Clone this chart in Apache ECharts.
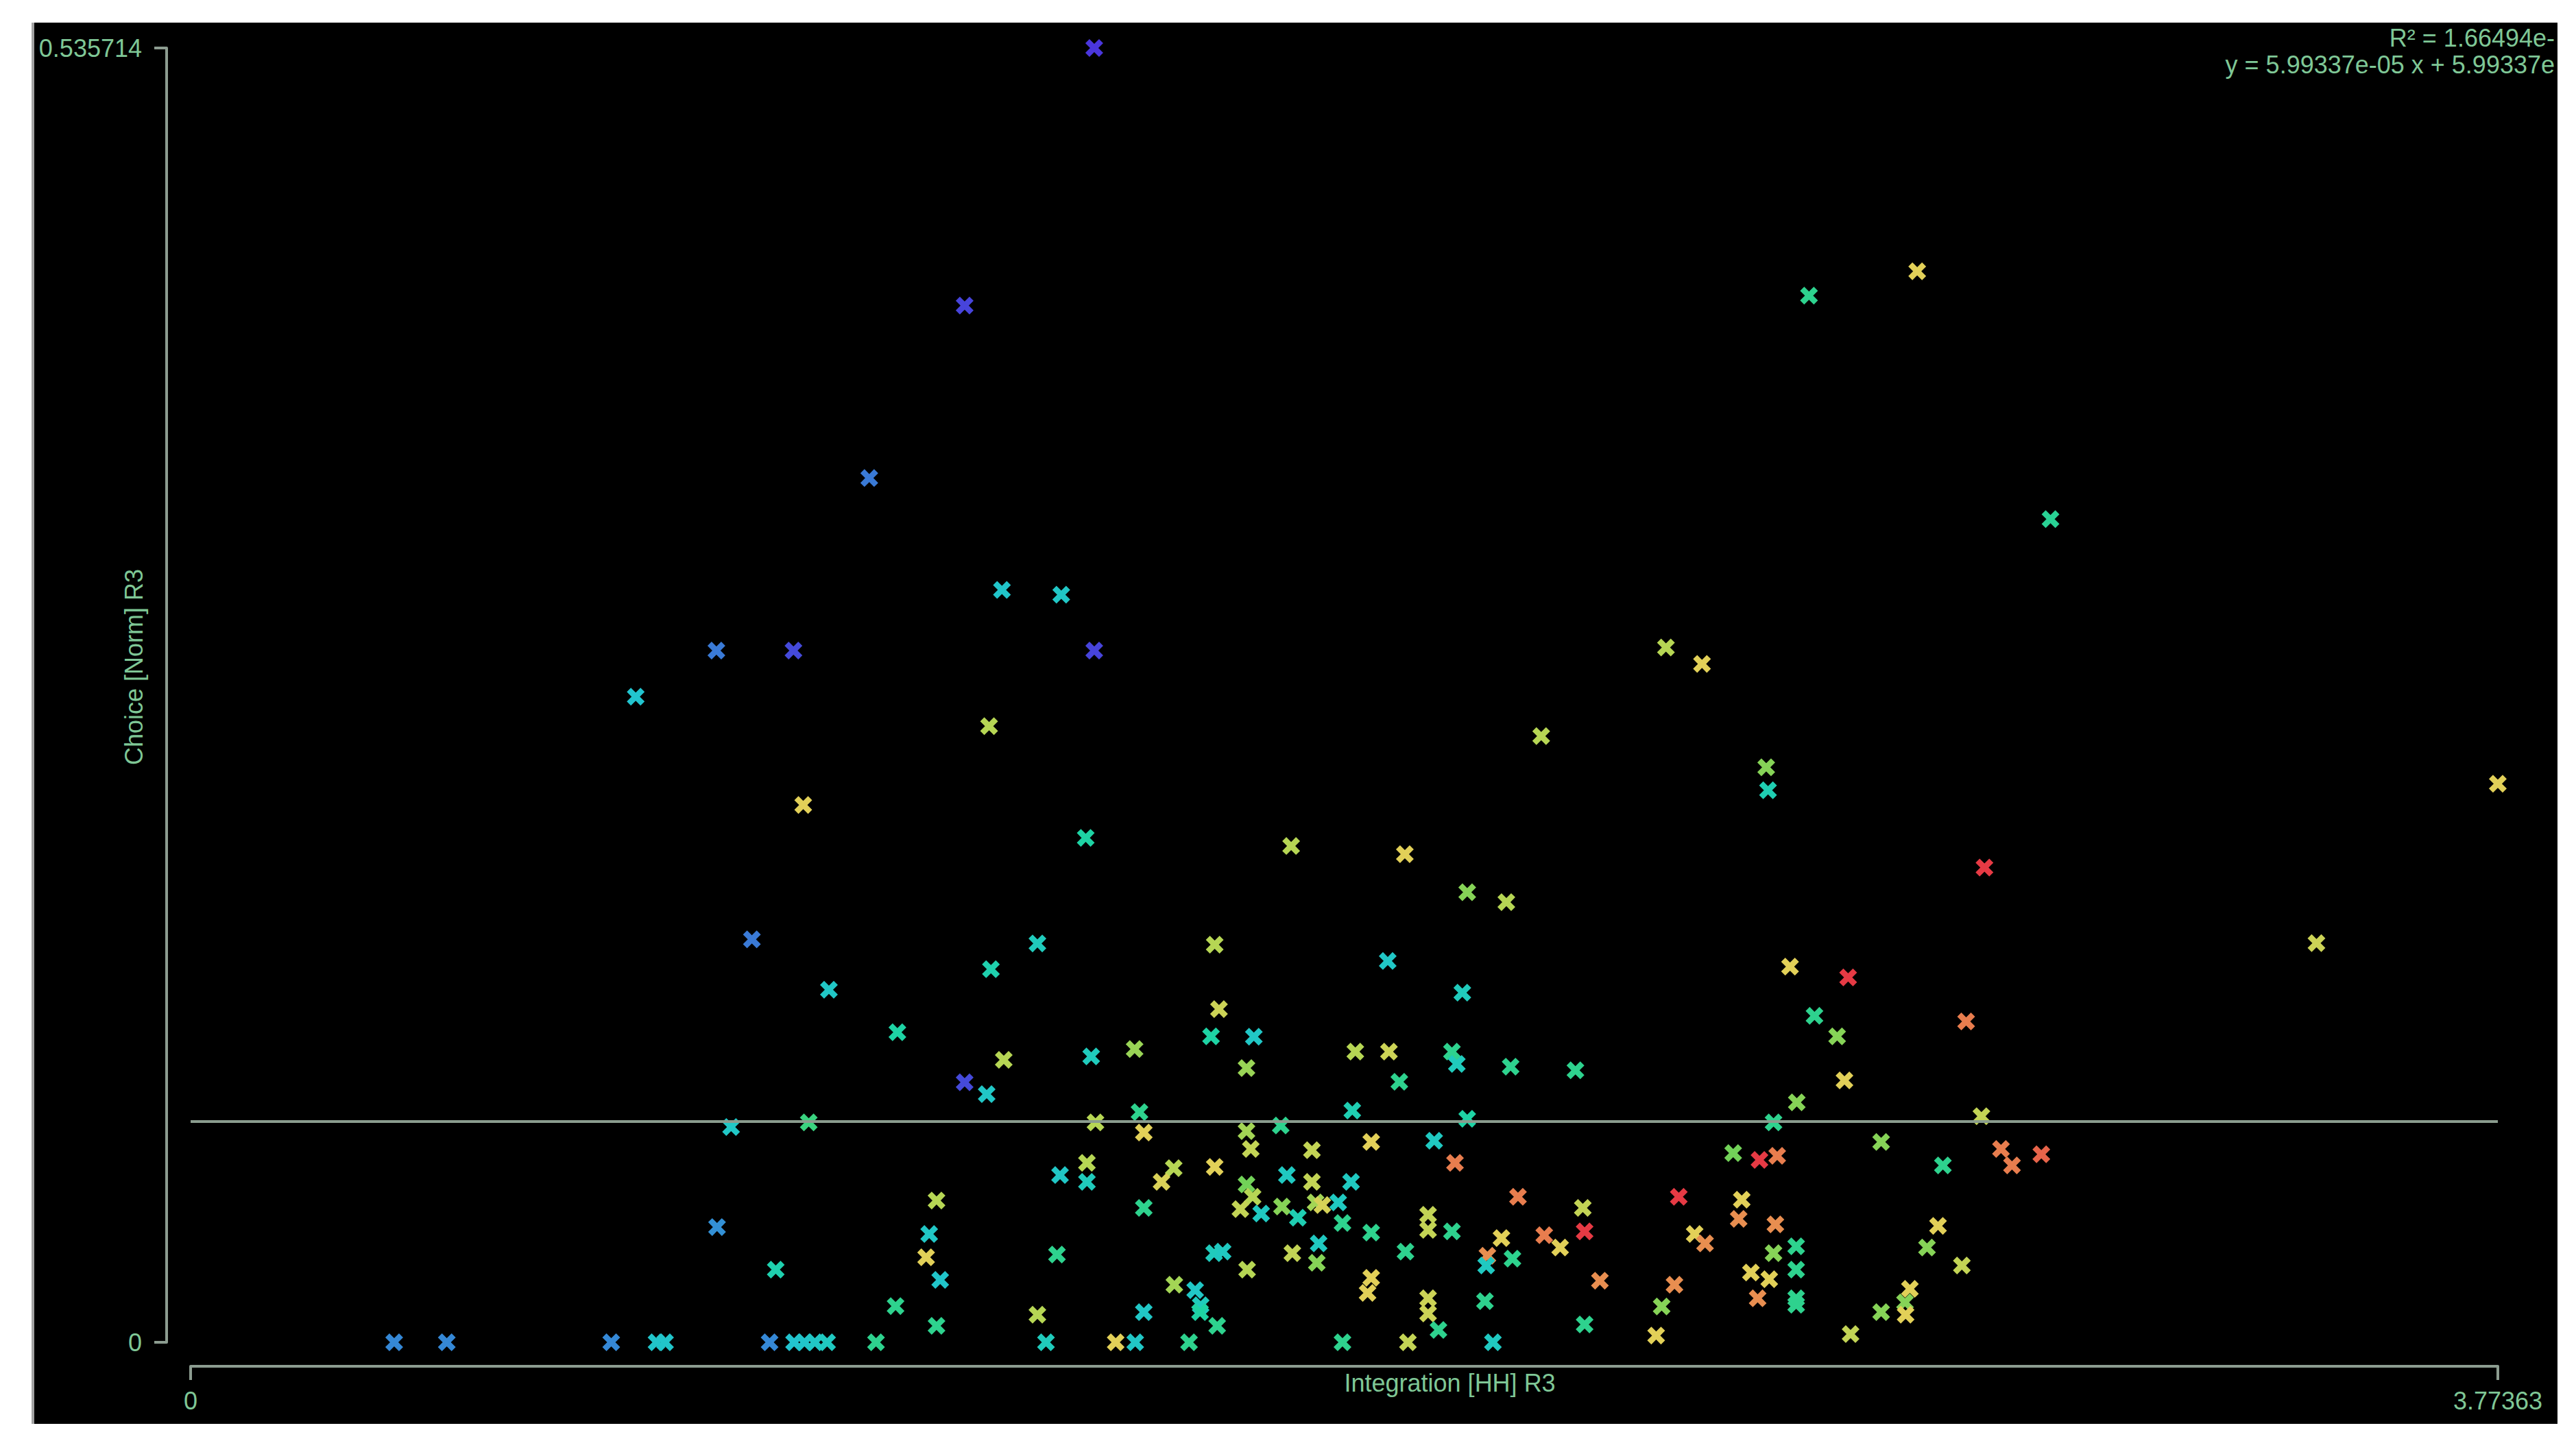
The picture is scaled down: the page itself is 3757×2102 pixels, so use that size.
<!DOCTYPE html>
<html>
<head>
<meta charset="utf-8">
<title>Integration [HH] R3 vs Choice [Norm] R3</title>
<script src="https://cdn.jsdelivr.net/npm/echarts@6.0.0/dist/echarts.min.js"></script>
<style>
  html, body { margin: 0; padding: 0; background: #fff; }
  #chart {
    position: absolute;
    left: 46px;
    top: 33px;
    width: 3680px;
    height: 2044px;
    border-left: 4px solid #a3a3a3;
    background: #000;
    overflow: hidden;
  }
</style>
</head>
<body>
<div id="chart"></div>
<script>
// axis ends (only min and max are ticked)
const xTicks = [0, 3.77363];
const yTicks = [0, 0.535714];

// integration (x), choice (y) and colour level (0 violet ... 8 red), same order
const integration = [
  1.478, 1.266, 2.824, 2.647, 1.110, 3.042, 1.327, 1.424, 0.860, 0.986,
  1.478, 0.728, 2.413, 2.472, 1.306, 2.209, 2.577, 2.580, 3.7736, 1.002,
  1.464, 1.800, 1.986, 2.934, 2.088, 2.152, 3.477,
  0.918, 1.385, 1.675, 1.309, 1.044, 1.682, 1.156, 1.669, 1.544, 1.473,
  1.330, 1.266, 1.302, 0.884, 1.011, 1.480, 1.552, 1.559, 1.466, 1.422,
  1.466, 1.608, 1.588, 1.675, 1.220, 1.559, 0.861, 1.208, 1.203, 1.417,
  1.674, 1.688, 0.957, 1.226, 1.609, 1.643, 1.652, 1.651, 1.153, 1.385,
  1.220, 1.559, 1.679, 0.947, 0.987, 1.004, 1.021, 1.041, 1.121, 1.399,
  1.513, 1.545, 1.633,
  1.958, 2.080, 1.739, 1.905, 1.960, 2.063, 2.071, 2.159, 2.265, 1.727,
  1.977, 1.900, 2.088, 1.783, 1.727, 1.734, 1.931, 1.834, 2.034, 2.068,
  2.523, 1.793, 1.834, 1.898, 1.727, 1.737, 1.717, 1.751, 1.785, 1.811,
  1.840, 1.851, 1.877, 1.884, 1.931, 2.024, 2.024, 2.063, 2.171, 2.277,
  2.434, 2.537, 2.532, 2.280, 2.214, 2.144, 2.240, 2.460, 2.477, 1.845,
  1.987, 2.121, 2.119, 2.162, 1.802, 1.842, 1.728, 1.931, 1.925, 2.024,
  2.024, 2.117, 2.041, 2.305, 2.427, 2.406, 2.280, 2.397, 1.884, 1.991,
  2.130,
  2.616, 2.711, 2.656, 2.904, 2.693, 2.705, 2.627, 2.589, 2.929, 2.566,
  2.595, 2.765, 2.866, 2.961, 2.979, 3.027, 2.592, 2.858, 2.589, 2.626,
  2.626, 2.626, 2.626, 2.840, 2.897, 2.552, 2.582, 2.563, 2.812, 2.804,
  2.805, 2.765, 2.715,
  0.333, 0.419, 0.688, 0.762, 0.776
];

const choice = [
  0.5357, 0.4291, 0.4433, 0.4332, 0.3577, 0.3407, 0.3114, 0.3094, 0.2863, 0.2863,
  0.2863, 0.2672, 0.2876, 0.2808, 0.2550, 0.2509, 0.2380, 0.2285, 0.2312, 0.2224,
  0.2088, 0.2054, 0.2020, 0.1965, 0.1863, 0.1822, 0.1652,
  0.1668, 0.1651, 0.1646, 0.1544, 0.1459, 0.1379, 0.1283, 0.1266, 0.1214, 0.1183,
  0.1169, 0.1076, 0.1027, 0.0891, 0.0910, 0.0910, 0.0953, 0.0868, 0.0743, 0.0692,
  0.0664, 0.0721, 0.0664, 0.0726, 0.0587, 0.0556, 0.0477, 0.0448, 0.0352, 0.0363,
  0.0369, 0.0375, 0.0301, 0.0258, 0.0238, 0.0216, 0.0153, 0.0125, 0.0150, 0.0114,
  0.0068, 0.0125, 0.0068, 0, 0, 0, 0, 0, 0, 0,
  0, 0, 0,
  0.1578, 0.1447, 0.1265, 0.1203, 0.1203, 0.1203, 0.1152, 0.1141, 0.1126, 0.1135,
  0.1078, 0.0959, 0.0925, 0.0897, 0.0874, 0.0800, 0.0829, 0.0795, 0.0834, 0.0743,
  0.0783, 0.0692, 0.0664, 0.0664, 0.0653, 0.0602, 0.0551, 0.0533, 0.0562, 0.0516,
  0.0579, 0.0568, 0.0579, 0.0494, 0.0454, 0.0528, 0.0465, 0.0459, 0.0602, 0.0556,
  0.0602, 0.0590, 0.0511, 0.0459, 0.0443, 0.0431, 0.0392, 0.0448, 0.0409, 0.0409,
  0.0375, 0.0358, 0.0318, 0.0346, 0.0369, 0.0329, 0.0301, 0.0267, 0.0204, 0.0182,
  0.0119, 0.0170, 0.0051, 0.0255, 0.0238, 0.0148, 0.0074, 0.0028, 0, 0,
  0,
  0.1555, 0.1510, 0.1351, 0.1328, 0.1266, 0.1084, 0.0993, 0.0910, 0.0936, 0.0755,
  0.0772, 0.0829, 0.0732, 0.0800, 0.0732, 0.0778, 0.0488, 0.0482, 0.0369, 0.0397,
  0.0301, 0.0182, 0.0155, 0.0392, 0.0318, 0.0289, 0.0261, 0.0182, 0.0221, 0.0165,
  0.0114, 0.0125, 0.0034,
  0, 0, 0, 0, 0
];

const level = [
  0, 0.2, 6, 3.3, 1, 3.2, 2.2, 2.3, 1, 0.3,
  0.2, 2.1, 5, 6, 5, 5, 4.5, 2.7, 6, 6,
  3, 5, 6, 8, 4.5, 5, 5.5,
  1, 2.5, 5, 2.8, 2.3, 5.5, 3, 3, 4.7, 2.5,
  5, 0.3, 2.3, 2.3, 3.5, 5, 3.3, 6, 5, 2.3,
  2.5, 5, 5.8, 6, 5, 3.3, 1.3, 2.3, 6, 3.3,
  2.5, 2.4, 2.8, 2.2, 4.8, 2.3, 2.5, 3, 3.3, 5,
  3.3, 2.3, 3.3, 1.2, 2.1, 2.2, 2.3, 2.4, 3.3, 2.5,
  6, 2.3, 3.3,
  2.3, 2.5, 2.3, 5, 5.5, 3.3, 2.5, 3.3, 3.3, 4.7,
  3.3, 2.7, 3, 3.3, 4.8, 5.3, 6, 5.3, 2.4, 7.2,
  4.3, 2.4, 5.3, 2.4, 4.3, 5, 5.3, 2.4, 4.5, 2.7,
  4.8, 5.7, 2.4, 3.3, 3.3, 5.3, 5.3, 3.3, 7.2, 5.3,
  8, 6, 7, 8, 7.2, 6, 6, 6, 7, 2.4,
  3.3, 7, 2.4, 3.3, 5.3, 4.5, 5, 6, 6, 5.5,
  5.5, 3.3, 3.3, 7, 7, 4.5, 3.3, 6, 3.3, 5.3,
  2.4,
  6, 8, 3.3, 7.2, 4.5, 6, 4.5, 3.3, 5.3, 8,
  7.2, 4.5, 3.3, 7.2, 7.2, 7.5, 7, 6, 4.5, 3.3,
  3.3, 3.3, 3.3, 4.5, 5.3, 6, 6, 7, 6, 4.5,
  6, 4.5, 5.3,
  1.2, 1.2, 1.2, 2.2, 2.2
];

// fitted line, drawn across the whole x range
const fitX = [0, 3.77363];
const fitY = [0.0914, 0.0914];

const fitText = ['R\u00b2 = 1.66494e-', 'y = 5.99337e-05 x + 5.99337e'];

const palette = ['#4a36dc', '#3a7ad6', '#22c2d4', '#1ed3a4', '#55d05a', '#b6d654', '#e2d058', '#e88e50', '#e63a44'];
const axisColor = '#8c9c90';
const textColor = '#7fc796';
const font = '"Liberation Sans", Arial, sans-serif';
// chunky "x" marker
const crossPath = 'path://M0,2.3 L2.3,0 L5,2.7 L7.7,0 L10,2.3 L7.3,5 L10,7.7 L7.7,10 L5,7.3 L2.3,10 L0,7.7 L2.7,5 Z';

const points = integration.map((x, i) => [x, choice[i], level[i]]);

const chart = echarts.init(document.getElementById('chart'), null, { renderer: 'svg' });

const option = {
  animation: false,
  backgroundColor: '#000',
  textStyle: { fontFamily: font },
  grid: { left: 228, right: 87, top: 37, bottom: 119, containLabel: false, outerBoundsMode: 'none' },
  xAxis: {
    type: 'value',
    min: xTicks[0],
    max: xTicks[1],
    interval: xTicks[1] - xTicks[0],
    offset: 35,
    name: 'Integration [HH] R3',
    nameLocation: 'middle',
    nameGap: 6,
    nameMoveOverlap: false,
    nameTextStyle: { color: textColor, fontSize: 36, fontFamily: font, align: 'left', verticalAlign: 'top' },
    axisLine: { onZero: false, lineStyle: { color: axisColor, width: 4 } },
    axisTick: { length: 20, lineStyle: { color: axisColor, width: 4 } },
    axisLabel: { margin: 32, color: textColor, fontSize: 36, fontFamily: font, showMinLabel: true, showMaxLabel: true },
    splitLine: { show: false }
  },
  yAxis: {
    type: 'value',
    min: yTicks[0],
    max: yTicks[1],
    interval: yTicks[1] - yTicks[0],
    offset: 35,
    name: 'Choice [Norm] R3',
    nameLocation: 'middle',
    nameRotate: 90,
    nameGap: 30,
    nameMoveOverlap: false,
    nameTextStyle: { color: textColor, fontSize: 36, fontFamily: font, padding: [0, 0, 0, 82] },
    axisLine: { onZero: false, lineStyle: { color: axisColor, width: 4 } },
    axisTick: { length: 18, lineStyle: { color: axisColor, width: 4 } },
    axisLabel: { margin: 36, color: textColor, fontSize: 36, fontFamily: font, showMinLabel: true, showMaxLabel: true },
    splitLine: { show: false }
  },
  visualMap: {
    show: false,
    type: 'continuous',
    seriesIndex: 1,
    dimension: 2,
    min: 0,
    max: 8,
    inRange: { color: palette }
  },
  graphic: [
    {
      type: 'text', x: 3676, y: 22,
      style: { text: fitText[0], fill: textColor, font: '36px ' + font, align: 'right', verticalAlign: 'middle' }
    },
    {
      type: 'text', x: 3676, y: 61,
      style: { text: fitText[1], fill: textColor, font: '36px ' + font, align: 'right', verticalAlign: 'middle' }
    }
  ],
  series: [
    {
      type: 'line',
      data: fitX.map((x, i) => [x, fitY[i]]),
      symbol: 'none',
      silent: true,
      lineStyle: { color: '#8a9c8e', width: 4 }
    },
    {
      type: 'scatter',
      data: points,
      symbol: crossPath,
      symbolSize: 26,
      itemStyle: { opacity: 1 },
      clip: false
    }
  ]
};

chart.setOption(option);
</script>
</body>
</html>
